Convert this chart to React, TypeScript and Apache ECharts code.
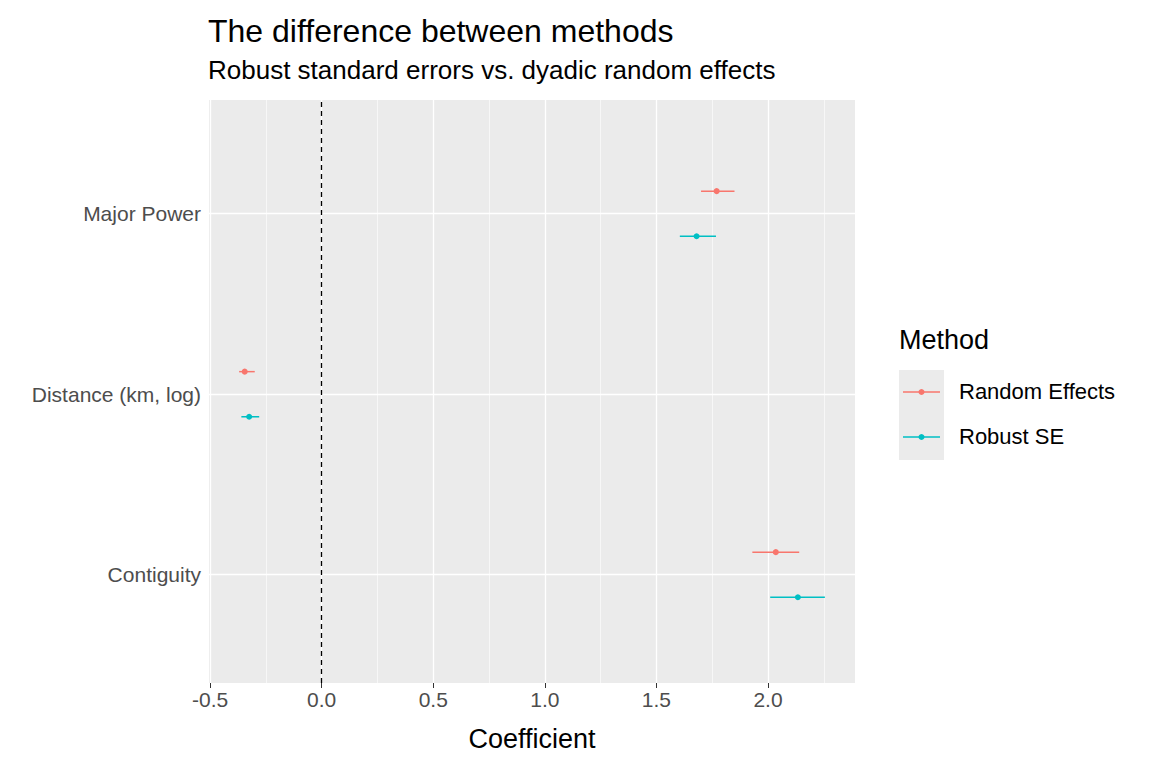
import React, { useEffect, useRef } from "react";
import * as echarts from "echarts";

const categories = ["Contiguity", "Distance (km, log)", "Major Power"];
const methods = ["Random Effects", "Robust SE"];
const colors = ["#F8766D", "#00BFC4"];
// [estimate, low, high] per category (order as categories)
const reValues = [[2.035, 1.93, 2.14], [-0.345, -0.37, -0.3], [1.77, 1.7, 1.85]];
const rseValues = [[2.134, 2.01, 2.255], [-0.325, -0.36, -0.28], [1.68, 1.605, 1.767]];
const xTicks = [-0.5, 0, 0.5, 1, 1.5, 2];
const xMinor = [-0.25, 0.25, 0.75, 1.25, 1.75, 2.25];
const dodge = [0.125, -0.125];
const FONT = "Arial, Liberation Sans";

export default function App() {
  const ref = useRef<HTMLDivElement>(null);
  useEffect(() => {
    const chart = echarts.init(ref.current!, null, { renderer: "svg" });
    const allSeries = [reValues, rseValues];
    const series: any[] = [];
    allSeries.forEach((vals, m) => {
      const data = vals.map((v, i) => [v[0], i + 1 + dodge[m], v[1], v[2]]);
      series.push({
        type: "custom",
        name: methods[m],
        data,
        z: 5,
        renderItem: (params: any, api: any) => {
          const y = api.value(1);
          const a = api.coord([api.value(2), y]);
          const b = api.coord([api.value(3), y]);
          const c = api.coord([api.value(0), y]);
          return {
            type: "group",
            children: [
              { type: "line", shape: { x1: a[0], y1: a[1], x2: b[0], y2: b[1] }, style: { stroke: colors[m], lineWidth: 1.5 } },
              { type: "circle", shape: { cx: c[0], cy: c[1], r: 3 }, style: { fill: colors[m] } },
            ],
          };
        },
      });
    });
    series.push({
      type: "line",
      data: [],
      markLine: {
        silent: true,
        symbol: "none",
        label: { show: false },
        data: [
          ...xMinor.map((x) => ({ xAxis: x, lineStyle: { color: "#fff", width: 0.6, type: "solid" } })),
          ...xTicks.map((x) => ({ xAxis: x, lineStyle: { color: "#fff", width: 1.3, type: "solid" } })),
          ...[1, 2, 3].map((y) => ({ yAxis: y, lineStyle: { color: "#fff", width: 1.3, type: "solid" } })),
          { xAxis: 0, lineStyle: { color: "#000", width: 1.3, type: [5, 4] } },
        ],
      },
    });
    chart.setOption({
      animation: false,
      title: {
        text: "The difference between methods",
        subtext: "Robust standard errors vs. dyadic random effects",
        left: 203,
        top: 10,
        itemGap: 10,
        textStyle: { fontSize: 32, fontWeight: "normal", color: "#000", fontFamily: FONT },
        subtextStyle: { fontSize: 26, color: "#000", fontFamily: FONT },
      },
      grid: { left: 209, right: 297, top: 100, bottom: 85, show: true, backgroundColor: "#EBEBEB", borderWidth: 0 },
      xAxis: {
        type: "value",
        min: -0.505,
        max: 2.39,
        name: "Coefficient",
        nameLocation: "middle",
        nameGap: 42,
        nameTextStyle: { fontSize: 27, color: "#000", fontFamily: FONT },
        axisLine: { show: false },
        axisTick: { show: true, customValues: xTicks, length: 5, lineStyle: { color: "#333" } },
        axisLabel: { customValues: xTicks, fontSize: 21, color: "#4D4D4D", margin: 6, fontFamily: FONT, formatter: (v: number) => v.toFixed(1) },
        splitLine: { show: false },
      },
      yAxis: {
        type: "value",
        min: 0.4,
        max: 3.63,
        axisLine: { show: false },
        axisTick: { show: true, customValues: [1, 2, 3], length: 5, lineStyle: { color: "#333" } },
        axisLabel: { customValues: [1, 2, 3], fontSize: 21, color: "#4D4D4D", margin: 8, fontFamily: FONT, formatter: (v: number) => categories[Math.round(v) - 1] || "" },
        splitLine: { show: false },
      },
      graphic: [
        { type: "text", left: 899, top: 326, style: { text: "Method", fontSize: 27, fill: "#000", fontFamily: FONT } },
        ...methods.flatMap((m, i) => [
          { type: "rect", shape: { x: 899, y: 370 + i * 45, width: 45, height: 45 }, style: { fill: "#EBEBEB" } },
          { type: "line", shape: { x1: 903, y1: 392 + i * 45, x2: 940, y2: 392 + i * 45 }, style: { stroke: colors[i], lineWidth: 1.5 } },
          { type: "circle", shape: { cx: 921.5, cy: 392 + i * 45, r: 3 }, style: { fill: colors[i] } },
          { type: "text", left: 959, top: 380 + i * 45, style: { text: m, fontSize: 22, fill: "#000", fontFamily: FONT } },
        ]),
      ],
      series,
    });
    return () => chart.dispose();
  }, []);
  return <div ref={ref} style={{ width: 1152, height: 768, position: "absolute", left: 0, top: 0 }} />;
}
